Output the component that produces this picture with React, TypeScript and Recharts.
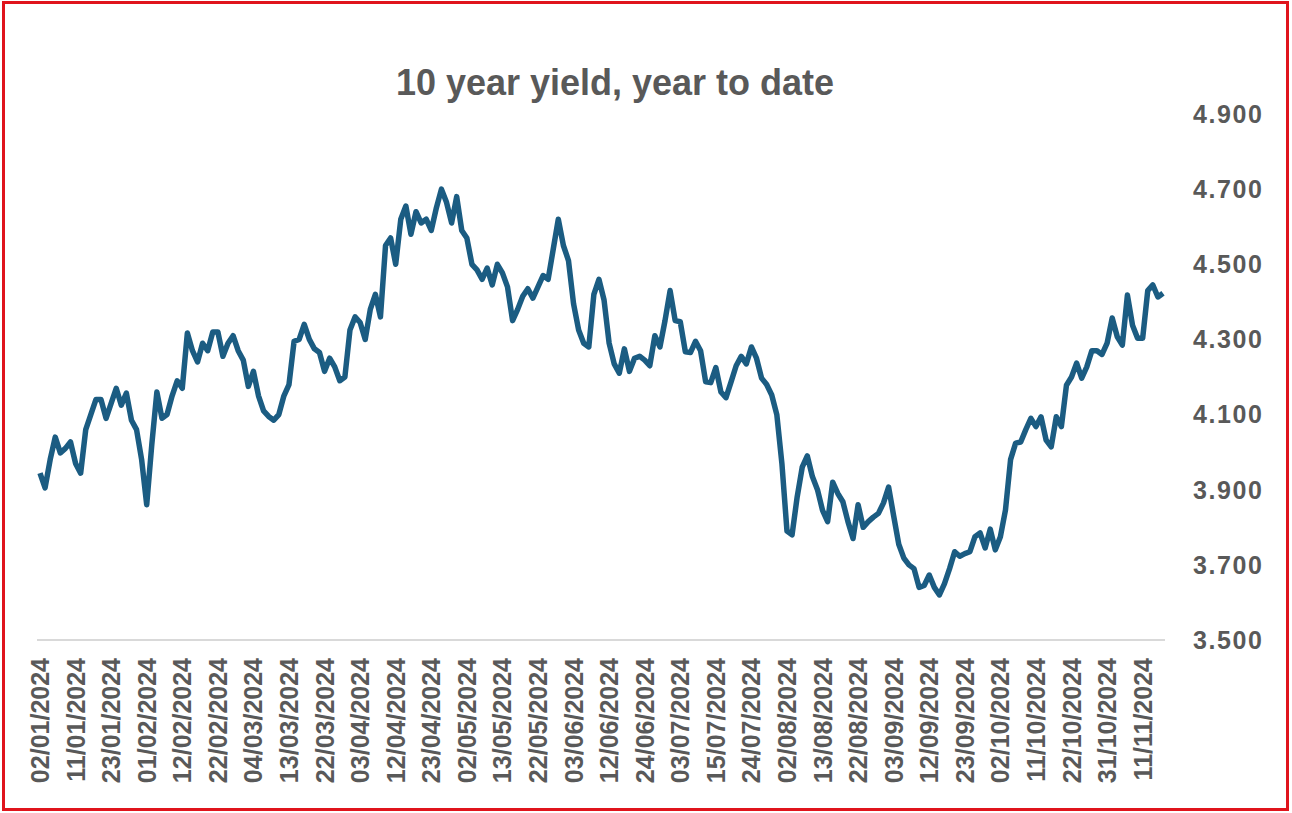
import React from "react";
import { LineChart, Line, XAxis, YAxis } from "recharts";

// Trading days per month (2024)
const monthDays: number[][] = [
  [2, 3, 4, 5, 8, 9, 10, 11, 12, 16, 17, 18, 19, 22, 23, 24, 25, 26, 29, 30, 31],
  [1, 2, 5, 6, 7, 8, 9, 12, 13, 14, 15, 16, 20, 21, 22, 23, 26, 27, 28, 29],
  [1, 4, 5, 6, 7, 8, 11, 12, 13, 14, 15, 18, 19, 20, 21, 22, 25, 26, 27, 28],
  [1, 2, 3, 4, 5, 8, 9, 10, 11, 12, 15, 16, 17, 18, 19, 22, 23, 24, 25, 26, 29, 30],
  [1, 2, 3, 6, 7, 8, 9, 10, 13, 14, 15, 16, 17, 20, 21, 22, 23, 24, 28, 29, 30, 31],
  [3, 4, 5, 6, 7, 10, 11, 12, 13, 14, 17, 18, 20, 21, 24, 25, 26, 27, 28],
  [1, 2, 3, 5, 8, 9, 10, 11, 12, 15, 16, 17, 18, 19, 22, 23, 24, 25, 26, 29, 30, 31],
  [1, 2, 5, 6, 7, 8, 9, 12, 13, 14, 15, 16, 19, 20, 21, 22, 23, 26, 27, 28, 29, 30],
  [3, 4, 5, 6, 9, 10, 11, 12, 13, 16, 17, 18, 19, 20, 23, 24, 25, 26, 27, 30],
  [1, 2, 3, 4, 7, 8, 9, 10, 11, 14, 15, 16, 17, 18, 21, 22, 23, 24, 25, 28, 29, 30, 31],
  [1, 4, 5, 6, 7, 8, 11, 12, 13, 14, 15],
];

const yields: number[] = [
  3.944, 3.905, 3.98, 4.04, 3.998, 4.01, 4.027, 3.97, 3.944, 4.06,
  4.1, 4.14, 4.14, 4.09, 4.13, 4.17, 4.125, 4.157, 4.085, 4.06,
  3.98, 3.86, 4.02, 4.16, 4.09, 4.1, 4.15, 4.19, 4.17, 4.317,
  4.27, 4.24, 4.29, 4.27, 4.32, 4.32, 4.255, 4.29, 4.31, 4.27,
  4.245, 4.175, 4.215, 4.15, 4.11, 4.095, 4.085, 4.1, 4.15, 4.18,
  4.295, 4.3, 4.34, 4.3, 4.275, 4.265, 4.215, 4.25, 4.227, 4.19,
  4.2, 4.325, 4.36, 4.345, 4.3, 4.38, 4.42, 4.36, 4.55, 4.57,
  4.5, 4.62, 4.655, 4.58, 4.64, 4.61, 4.62, 4.59, 4.65, 4.7,
  4.665, 4.61, 4.68, 4.59, 4.57, 4.5, 4.485, 4.46, 4.49, 4.445,
  4.5, 4.477, 4.44, 4.35, 4.38, 4.415, 4.435, 4.41, 4.44, 4.47,
  4.46, 4.54, 4.62, 4.55, 4.51, 4.395, 4.325, 4.29, 4.28, 4.42,
  4.46, 4.405, 4.29, 4.235, 4.21, 4.275, 4.215, 4.25, 4.255, 4.245,
  4.23, 4.31, 4.28, 4.35, 4.43, 4.35, 4.347, 4.267, 4.265, 4.295,
  4.27, 4.187, 4.185, 4.225, 4.16, 4.145, 4.187, 4.23, 4.255, 4.235,
  4.28, 4.25, 4.197, 4.18, 4.152, 4.1, 3.97, 3.79, 3.78, 3.88,
  3.96, 3.99, 3.935, 3.9, 3.845, 3.815, 3.92, 3.89, 3.868, 3.815,
  3.77, 3.86, 3.8, 3.815, 3.827, 3.837, 3.865, 3.907, 3.83, 3.755,
  3.718, 3.7, 3.69, 3.64, 3.645, 3.673, 3.64, 3.62, 3.65, 3.69,
  3.735, 3.723, 3.73, 3.735, 3.775, 3.785, 3.745, 3.795, 3.74, 3.775,
  3.846, 3.98, 4.024, 4.027, 4.06, 4.09, 4.068, 4.094, 4.032, 4.014,
  4.094, 4.068, 4.178, 4.2, 4.237, 4.197, 4.227, 4.27, 4.27, 4.26,
  4.29, 4.357, 4.307, 4.285, 4.418, 4.338, 4.303, 4.303, 4.43, 4.445,
  4.413, 4.423,
];

const yTicks: number[] = [3.5, 3.7, 3.9, 4.1, 4.3, 4.5, 4.7, 4.9];

const pad = (n: number) => (n < 10 ? "0" + n : "" + n);
const dates: string[] = [];
monthDays.forEach((days, m) => {
  days.forEach((d) => dates.push(`${pad(d)}/${pad(m + 1)}/2024`));
});
const data = dates.map((date, i) => ({ date, value: yields[i] }));

const GREY = "#595959";

const XTick = (props: any) => {
  const { x, y, payload } = props;
  return (
    <g transform={`translate(${x},${y + 10})`}>
      <text
        transform="rotate(-90)"
        textAnchor="end"
        dy="0.36em"
        fill={GREY}
        fontSize={25}
        fontWeight="bold"
        fontFamily="'Liberation Sans', Arial, sans-serif"
      >
        {payload.value}
      </text>
    </g>
  );
};

export default function App() {
  return (
    <div style={{ position: "absolute", left: 0, top: 0, width: 1292, height: 813, background: "#fff" }}>
      <LineChart
        width={1292}
        height={813}
        data={data}
        margin={{ top: 114, right: 27, bottom: 23, left: 37 }}
      >
        <XAxis
          dataKey="date"
          interval={6}
          padding={{ left: 3, right: 2 }}
          axisLine={{ stroke: "#d9d9d9", strokeWidth: 2 }}
          tickLine={false}
          height={150}
          tick={<XTick />}
        />
        <YAxis
          orientation="right"
          domain={[3.5, 4.9]}
          ticks={yTicks}
          width={100}
          axisLine={false}
          tickLine={false}
          tickMargin={22}
          tickFormatter={(v: number) => v.toFixed(3)}
          tick={{ fill: GREY, fontSize: 25, fontWeight: "bold", fontFamily: "'Liberation Sans', Arial, sans-serif", letterSpacing: 1.6 }}
          textAnchor="start"
        />
        <Line
          type="linear"
          dataKey="value"
          stroke="#1b5c82"
          strokeWidth={5.5}
          dot={false}
          activeDot={false}
          strokeLinejoin="round"
          isAnimationActive={false}
        />
      </LineChart>
      <svg
        width={1292}
        height={813}
        style={{ position: "absolute", left: 0, top: 0, pointerEvents: "none" }}
      >
        <text
          x={615}
          y={95}
          textAnchor="middle"
          fill={GREY}
          fontSize={36}
          fontWeight="bold"
          fontFamily="'Liberation Sans', Arial, sans-serif"
        >
          10 year yield, year to date
        </text>
      </svg>
      <div
        style={{
          position: "absolute",
          left: 2,
          top: 1,
          width: 1287,
          height: 810,
          border: "3px solid #e0141c",
          boxSizing: "border-box",
          pointerEvents: "none",
        }}
      />
    </div>
  );
}
